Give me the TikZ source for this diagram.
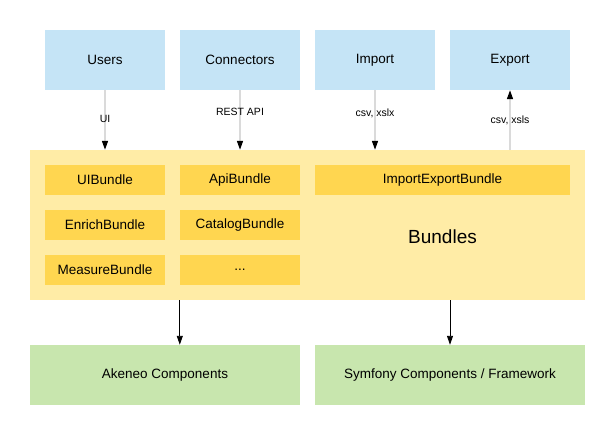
\documentclass[tikz,border=0pt]{standalone}
\usepackage{fontspec}
\setmainfont{Liberation Sans}
\usetikzlibrary{arrows.meta, calc, positioning}

\definecolor{extblue}{RGB}{197,228,246}
\definecolor{coreyellow}{RGB}{255,236,166}
\definecolor{bundleyellow}{RGB}{255,214,80}
\definecolor{compgreen}{RGB}{200,230,174}
\definecolor{flowgray}{RGB}{218,218,218}

\tikzset{
    box/.style={draw=none, inner sep=0pt, font=\fontsize{13.5}{16}\selectfont},
    ext/.style={box, fill=extblue, minimum width=120pt, minimum height=60pt},
    bundle/.style={box, fill=bundleyellow, minimum width=120pt, minimum height=30pt},
    comp/.style={box, fill=compgreen, minimum width=270pt, minimum height=60pt},
    flow/.style={draw=flowgray, line width=1.5pt, -{Triangle[length=9pt, width=6pt, color=black]}},
    dep/.style={draw=black, line width=0.9pt, -{Triangle[length=9pt, width=6pt]}},
    lbl/.style={inner sep=0pt, font=\fontsize{10.5}{12}\selectfont}
}

\begin{document}
\begin{tikzpicture}[x=1pt, y=-1pt]
                    \useasboundingbox (0, 0) rectangle (615, 435);

                    % outside
                    \node[ext] (users) at (105, 60) {Users};
                    \node[ext] (connectors) at (240, 60) {Connectors};
                    \node[ext] (import) at (375, 60) {Import};
                    \node[ext] (export) at (510, 60) {Export};

                    % bundles
                    \node[box, fill=coreyellow, minimum width=555pt, minimum height=150pt] (core) at (307.5, 225) {};
                    \foreach \n/\t/\x/\y in {ui/UIBundle/105/180, enrich/EnrichBundle/105/225,
                        measure/MeasureBundle/105/270, api/ApiBundle/240/180,
                        catalog/CatalogBundle/240/225} {
                        \node[bundle] (\n) at (\x, \y) {\t};
                    }
                    \node[bundle] (more) at (240, 270) {...};
                    \node[bundle, minimum width=255pt] (impexp) at (442.5, 180) {ImportExportBundle};
                    \node[box, font=\fontsize{19}{22}\selectfont] (bundles) at (442.5, 237) {Bundles};

                    % components
                    \node[comp] (akeneo) at (165, 375) {Akeneo Components};
                    \node[comp] (symfony) at (450, 375) {Symfony Components / Framework};

                    \draw[flow] (users) -- (users |- core.north);
                    \draw[flow] (connectors) -- (connectors |- core.north);
                    \draw[flow] (import) -- (import |- core.north);
                    \draw[flow] (core.north -| export) -- (export.south);

                    \node[lbl] (uilbl) at (105, 119) {UI};
                    \node[lbl] (restlbl) at (240, 112) {REST API};
                    \node[lbl] (importlbl) at (375, 113) {csv, xslx};
                    \node[lbl] (exportlbl) at (510, 120) {csv, xsls};

                    \draw[dep] (core.south -| api.west) -- (akeneo.north -| api.west);
                    \draw[dep] (core.south -| symfony.north) -- (symfony.north);
                \end{tikzpicture}
\end{document}
